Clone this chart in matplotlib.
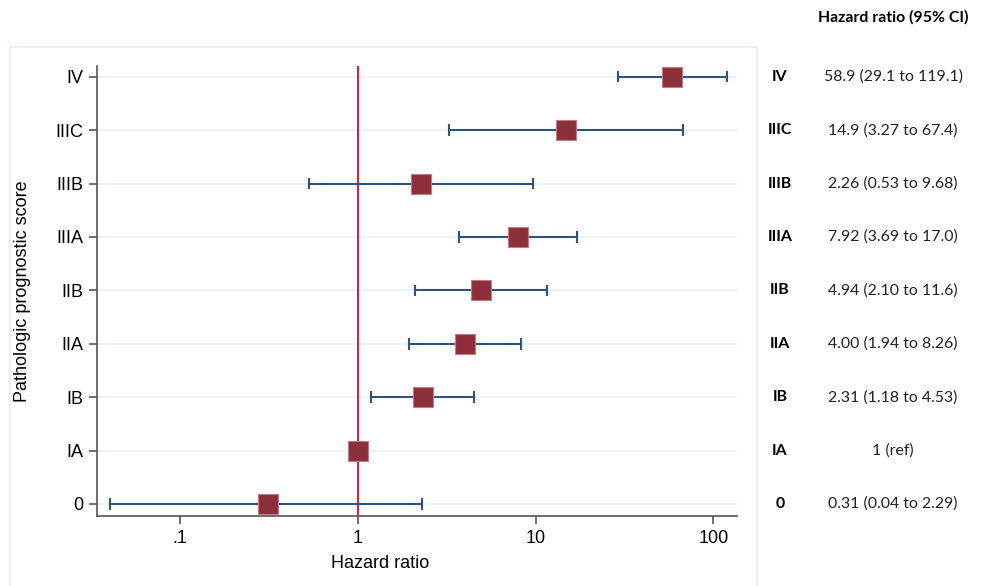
import matplotlib.pyplot as plt
from matplotlib.patches import Rectangle

# --- data ---
stages = ["0", "IA", "IB", "IIA", "IIB", "IIIA", "IIIB", "IIIC", "IV"]
hr = [0.31, 1.0, 2.31, 4.00, 4.94, 7.92, 2.26, 14.9, 58.9]
ci_low = [0.04, None, 1.18, 1.94, 2.10, 3.69, 0.53, 3.27, 29.1]
ci_high = [2.29, None, 4.53, 8.26, 11.6, 17.0, 9.68, 67.4, 119.1]
hr_text = ["0.31 (0.04 to 2.29)", "1 (ref)", "2.31 (1.18 to 4.53)",
           "4.00 (1.94 to 8.26)", "4.94 (2.10 to 11.6)", "7.92 (3.69 to 17.0)",
           "2.26 (0.53 to 9.68)", "14.9 (3.27 to 67.4)", "58.9 (29.1 to 119.1)"]
xticks = [0.1, 1, 10, 100]
xtick_labels = [".1", "1", "10", "100"]

W, H = 985, 586
fig = plt.figure(figsize=(W / 100, H / 100), dpi=100)
fig.patch.set_facecolor("white")

# light outer graph-region frame (Stata style)
fig.add_artist(Rectangle((10 / W, -0.02), 747 / W, (H - 47) / H + 0.02,
                         transform=fig.transFigure, fill=False,
                         edgecolor="#e3ecef", linewidth=1.2))

ax = fig.add_axes([97 / W, (H - 516) / H, 640 / W, 450 / H])
ax.set_xscale("log")
ax.set_xlim(0.034, 136)
ax.set_ylim(-0.225, 8.2)

ypos = list(range(len(stages)))
for y in ypos:
    ax.axhline(y, color="#eaf1f3", linewidth=1.2, zorder=0)

ax.axvline(1, color="#c8264a", linewidth=1.5, zorder=1)

for y, lo, hi in zip(ypos, ci_low, ci_high):
    if lo is None:
        continue
    ax.plot([lo, hi], [y, y], color="#2b5580", linewidth=1.5, zorder=2)
    ax.plot([lo, lo], [y - 0.09, y + 0.09], color="#2b5580", linewidth=1.5, zorder=2)
    ax.plot([hi, hi], [y - 0.09, y + 0.09], color="#2b5580", linewidth=1.5, zorder=2)

ax.plot(hr, ypos, linestyle="none", marker="s", markersize=14.5,
        markerfacecolor="#8c2f3b", markeredgecolor="#c27a84",
        markeredgewidth=0.8, zorder=3)

for s in ["top", "right"]:
    ax.spines[s].set_visible(False)
for s in ["left", "bottom"]:
    ax.spines[s].set_color("#555555")
    ax.spines[s].set_linewidth(1.2)

ax.set_yticks(ypos)
ax.set_yticklabels(stages, fontsize=13, family="Liberation Sans")
ax.set_xticks(xticks)
ax.set_xticklabels(xtick_labels, fontsize=13, family="Liberation Sans")
ax.xaxis.set_minor_locator(plt.NullLocator())
ax.tick_params(axis="both", length=6, width=1.2, color="#555555", pad=4)

ax.set_xlabel("Hazard ratio", fontsize=13, family="Liberation Sans")
ax.set_ylabel("Pathologic prognostic score", fontsize=13, family="Liberation Sans")
ax.xaxis.set_label_coords((380 - 97) / 640, -(555 - 516) / 450)
ax.yaxis.set_label_coords(-(97 - 31) / 640, (516 - 291) / 450)

# right-hand table
fig.text(893 / W, 1 - 17 / H, "Hazard ratio (95% CI)", ha="center", va="center",
         fontsize=11.4, fontweight="bold", family="Lato")
for y, lab, txt in zip(ypos, stages, hr_text):
    yy = ax.transData.transform((1, y))[1]
    fy = fig.transFigure.inverted().transform((0, yy))[1]
    fig.text(780 / W, fy, lab, ha="center", va="center", fontsize=11.4,
             fontweight="bold", family="Lato")
    fig.text(893 / W, fy, txt, ha="center", va="center", fontsize=11.4,
             family="Lato", color="#222222")

fig.savefig("out.png", dpi=100)
